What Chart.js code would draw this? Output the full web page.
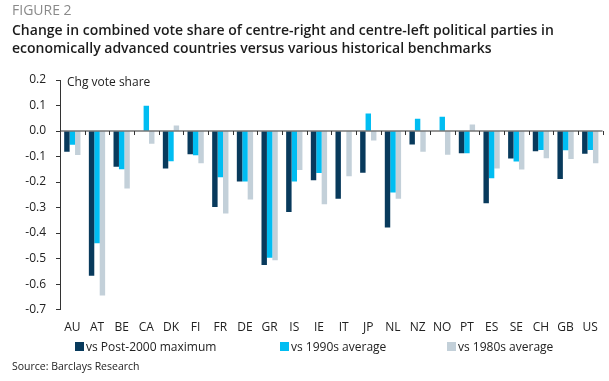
<!DOCTYPE html>
<html>
<head>
<meta charset="utf-8">
<script src="https://cdn.jsdelivr.net/npm/chart.js@4.4.1/dist/chart.umd.min.js"></script>
<style>
  html, body { margin: 0; padding: 0; background: #ffffff; width: 609px; height: 381px; overflow: hidden; }
  body { font-family: "Open Sans", Lato, "DejaVu Sans", sans-serif; }
  #wrap { position: relative; width: 609px; height: 381px; }
  #chart { position: absolute; left: 0; top: 0; }
  .fig { position: absolute; left: 12px; top: 0px; font-size: 14px; color: #8a8a8a; white-space: nowrap; line-height: 19px; }
  .title { position: absolute; left: 12px; top: 21px; font-size: 14px; font-weight: 600; color: #1c1c1c; line-height: 18px; white-space: nowrap; }
  .unit { position: absolute; left: 67px; top: 74px; font-size: 12px; color: #222; white-space: nowrap; line-height: 16px; }
  .leg { position: absolute; top: 339px; font-size: 12px; color: #222; white-space: nowrap; line-height: 16px; }
  .leg i { display: inline-block; width: 9px; height: 9px; margin-right: 2px; vertical-align: 0px; }
  .src { position: absolute; left: 12px; top: 359px; font-size: 10.5px; color: #222; white-space: nowrap; line-height: 15px; }
</style>
</head>
<body>
<div id="wrap">
  <canvas id="chart" width="609" height="381"></canvas>
  <div class="fig">FIGURE 2</div>
  <div class="title">Change in combined vote share of centre-right and centre-left political parties in<br>economically advanced countries versus various historical benchmarks</div>
  <div class="unit">Chg vote share</div>
  <div id="legend"></div>
  <div class="src">Source: Barclays Research</div>
</div>
<script>
// ---- data ----
const categories = ['AU','AT','BE','CA','DK','FI','FR','DE','GR','IS','IE','IT','JP','NL','NZ','NO','PT','ES','SE','CH','GB','US'];
const seriesNames = ['vs Post-2000 maximum', 'vs 1990s average', 'vs 1980s average'];
const post2000Max = [-0.081,-0.567,-0.140,null,-0.147,-0.091,-0.298,-0.198,-0.525,-0.317,-0.193,-0.265,-0.164,-0.378,-0.053,null,-0.087,-0.283,-0.108,-0.079,-0.188,-0.089];
const avg1990s    = [-0.054,-0.440,-0.150,0.099,-0.118,-0.095,-0.181,-0.198,-0.497,-0.198,-0.165,null,0.069,-0.241,0.048,0.056,-0.087,-0.185,-0.119,-0.074,-0.075,-0.074];
const avg1980s    = [-0.094,-0.645,-0.225,-0.050,0.022,-0.126,-0.323,-0.268,-0.507,-0.153,-0.287,-0.177,-0.037,-0.265,-0.081,-0.093,0.026,-0.147,-0.151,-0.107,-0.110,-0.126];
const yTickValues = [0.2,0.1,0.0,-0.1,-0.2,-0.3,-0.4,-0.5,-0.6,-0.7];
const seriesColors = ['#083a5c', '#00bdf2', '#c3d0d9'];

const FONT = '"Open Sans", Lato, "DejaVu Sans", sans-serif';
const AXIS_COLOR = '#333333';

// zero line with boundary ticks, drawn from the scales
const zeroLinePlugin = {
  id: 'zeroLine',
  afterDatasetsDraw(chart) {
    const {ctx, chartArea, scales} = chart;
    const x = scales.x, y = scales.y;
    const y0 = y.getPixelForValue(0);
    const half = (x.getPixelForValue(1) - x.getPixelForValue(0)) / 2;
    ctx.save();
    ctx.strokeStyle = AXIS_COLOR;
    ctx.lineWidth = 1.2;
    ctx.beginPath();
    ctx.moveTo(chartArea.left, y0);
    ctx.lineTo(chartArea.right, y0);
    ctx.stroke();
    ctx.lineWidth = 1;
    ctx.beginPath();
    for (let i = 0; i < categories.length; i++) {
      const bx = Math.round(x.getPixelForValue(i) + half) + 0.5;
      ctx.moveTo(bx, y0);
      ctx.lineTo(bx, y0 + 4);
    }
    ctx.stroke();
    ctx.restore();
  }
};

const datasets = [post2000Max, avg1990s, avg1980s].map((d, i) => ({
  label: seriesNames[i],
  data: d,
  backgroundColor: seriesColors[i],
  borderWidth: 0,
  categoryPercentage: 0.66,
  barPercentage: 1.0
}));

new Chart(document.getElementById('chart'), {
  type: 'bar',
  data: { labels: categories, datasets },
  options: {
    responsive: false,
    animation: false,
    devicePixelRatio: 1,
    layout: { padding: { top: 80, left: 25, right: 4, bottom: 35 } },
    plugins: { legend: { display: false }, tooltip: { enabled: false } },
    scales: {
      x: {
        grid: { display: false, drawTicks: false },
        border: { display: false },
        ticks: { color: '#222', font: { family: FONT, size: 12 }, padding: 11, maxRotation: 0, autoSkip: false }
      },
      y: {
        min: -0.7, max: 0.2,
        afterBuildTicks(scale) { scale.ticks = yTickValues.map(v => ({ value: v })); },
        afterFit(scale) { scale.width = 35; },
        grid: { drawOnChartArea: false, drawTicks: true, tickLength: 4, color: AXIS_COLOR },
        border: { display: true, color: AXIS_COLOR, width: 1 },
        ticks: {
          color: '#222', font: { family: FONT, size: 12 }, padding: 10,
          callback: v => (Math.round(v * 10) / 10).toFixed(1)
        }
      }
    }
  },
  plugins: [zeroLinePlugin]
});

// legend built from the same series arrays
const legendLefts = [75, 280, 447];
const legendEl = document.getElementById('legend');
seriesNames.forEach((name, i) => {
  const d = document.createElement('div');
  d.className = 'leg';
  d.style.left = legendLefts[i] + 'px';
  d.innerHTML = '<i style="background:' + seriesColors[i] + '"></i>' + name;
  legendEl.appendChild(d);
});
</script>
</body>
</html>
